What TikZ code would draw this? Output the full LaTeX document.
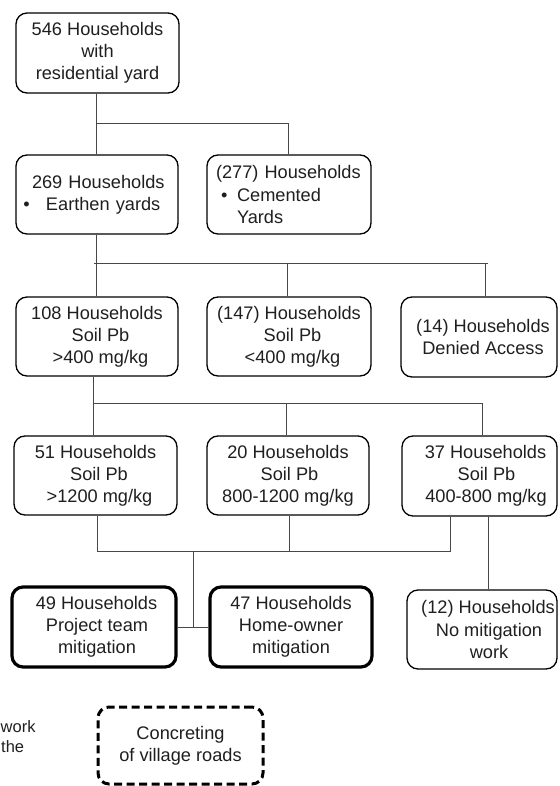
\documentclass[tikz,border=0pt]{standalone}
\usepackage{fontspec}
\setmainfont{Liberation Sans}
\begin{document}
\begin{tikzpicture}[x=1pt,y=-1pt,
  txt/.style={font=\fontsize{18.2}{22.2}\selectfont, text=black!88},
  box/.style={txt, draw=black, line width=1.3pt, rounded corners=11pt, align=center, inner sep=0pt},
  thickbox/.style={box, line width=3.2pt},
  dashbox/.style={box, line width=3pt, dash pattern=on 8pt off 4.5pt},
  conn/.style={draw=black!72, line width=1pt},
  legend/.style={font=\fontsize{16.5}{20}\selectfont, text=black!88, anchor=base west, inner sep=0pt}]
\useasboundingbox (0,0) rectangle (559,786);

% row 1
\node[box, minimum width=163pt, minimum height=80pt] (b546) at (97.5,53) {546 Households\\with\\residential yard};
% row 2
\node[box, minimum width=162pt, minimum height=79pt, text width=150pt, inner xsep=6pt, align=left] (b269) at (97,194.5)
  {\hspace*{10pt}269 Households\\\makebox[24pt][l]{\hspace*{1.5pt}\textbullet}Earthen yards};
\node[box, minimum width=164pt, minimum height=79pt, text width=146pt, inner xsep=9pt, align=left] (b277) at (289,194.5)
  {(277) Households\\\hspace*{5pt}\makebox[16pt][l]{\textbullet}Cemented\\\hspace*{21pt}Yards};
% row 3
\node[box, minimum width=162pt, minimum height=79pt] (b108) at (97,336.5) {108 Households\\\hspace*{7pt}Soil Pb\\\hspace*{7pt}>400 mg/kg};
\node[box, minimum width=164pt, minimum height=79pt] (b147) at (289,336.5) {(147) Households\\\hspace*{7pt}Soil Pb\\\hspace*{7pt}<400 mg/kg};
\node[box, minimum width=156pt, minimum height=80pt] (b14) at (479,337) {\hspace*{8pt}(14) Households\\\hspace*{8pt}Denied Access};
% row 4
\node[box, minimum width=163pt, minimum height=79pt] (b51) at (95.5,475.5) {51 Households\\\hspace*{7pt}Soil Pb\\\hspace*{8pt}>1200 mg/kg};
\node[box, minimum width=162pt, minimum height=79pt] (b20) at (288,475.5) {20 Households\\\hspace*{3pt}Soil Pb\\800-1200 mg/kg};
\node[box, minimum width=155pt, minimum height=80pt] (b37) at (479.5,476) {\hspace*{12pt}37 Households\\\hspace*{14pt}Soil Pb\\\hspace*{13pt}400-800 mg/kg};
% row 5
\node[thickbox, minimum width=164pt, minimum height=80pt] (b49) at (94,627) {\hspace*{5pt}49 Households\\\hspace*{6pt}Project team\\\hspace*{6pt}mitigation};
\node[thickbox, minimum width=162pt, minimum height=80pt] (b47) at (291,627) {47 Households\\Home-owner\\mitigation};
\node[box, minimum width=150pt, minimum height=79pt] (b12) at (482,629.5) {\hspace*{12pt}(12) Households\\\hspace*{14pt}No mitigation\\\hspace*{14pt}work};
% dashed box
\node[dashbox, minimum width=165pt, minimum height=77pt] (road) at (180.5,745.5) {Concreting\\of village roads};
% cut-off legend text
\node[legend] (lwork) at (0.5,732) {work};
\node[legend] (lthe) at (1,752) {the};

% connectors
\coordinate (h1) at (0,124);
\coordinate (h2) at (0,263);
\coordinate (h3) at (0,403);
\coordinate (h4) at (193,551);
\draw[conn] ([xshift=-1.5]b546.south) -- ([xshift=-1.5]b546.south |- b269.north);
\draw[conn] ([xshift=-1.5]b546.south |- h1) -| ([xshift=-1]b277.north);
\draw[conn] ([xshift=-1]b269.south) -- ([xshift=-1]b269.south |- b108.north);
\draw[conn] ([xshift=-3]b269.south |- h2) -- ([xshift=9]b14.north |- h2);
\draw[conn] ([xshift=6]b14.north |- h2) -- ([xshift=6]b14.north);
\draw[conn] ([xshift=-2]b147.north |- h2) -- ([xshift=-2]b147.north);
\draw[conn] ([xshift=-4]b108.south) -- ([xshift=-4]b108.south |- b51.north);
\draw[conn] ([xshift=-4]b108.south |- h3) -| ([xshift=2.5]b37.north);
\draw[conn] ([xshift=-2]b20.north |- h3) -- ([xshift=-2]b20.north);
\draw[conn] ([xshift=1.5]b51.south) |- ([xshift=-29.5]b37.south |- h4) -- ([xshift=-29.5]b37.south);
\draw[conn] ([xshift=1]b20.south) -- ([xshift=1]b20.south |- h4);
\draw[conn] (h4) -- (h4 |- b49.east);
\draw[conn] (b49.east) -- (b47.west);
\draw[conn] ([xshift=8.5]b37.south) -- ([xshift=8.5]b37.south |- b12.north);
\end{tikzpicture}
\end{document}
